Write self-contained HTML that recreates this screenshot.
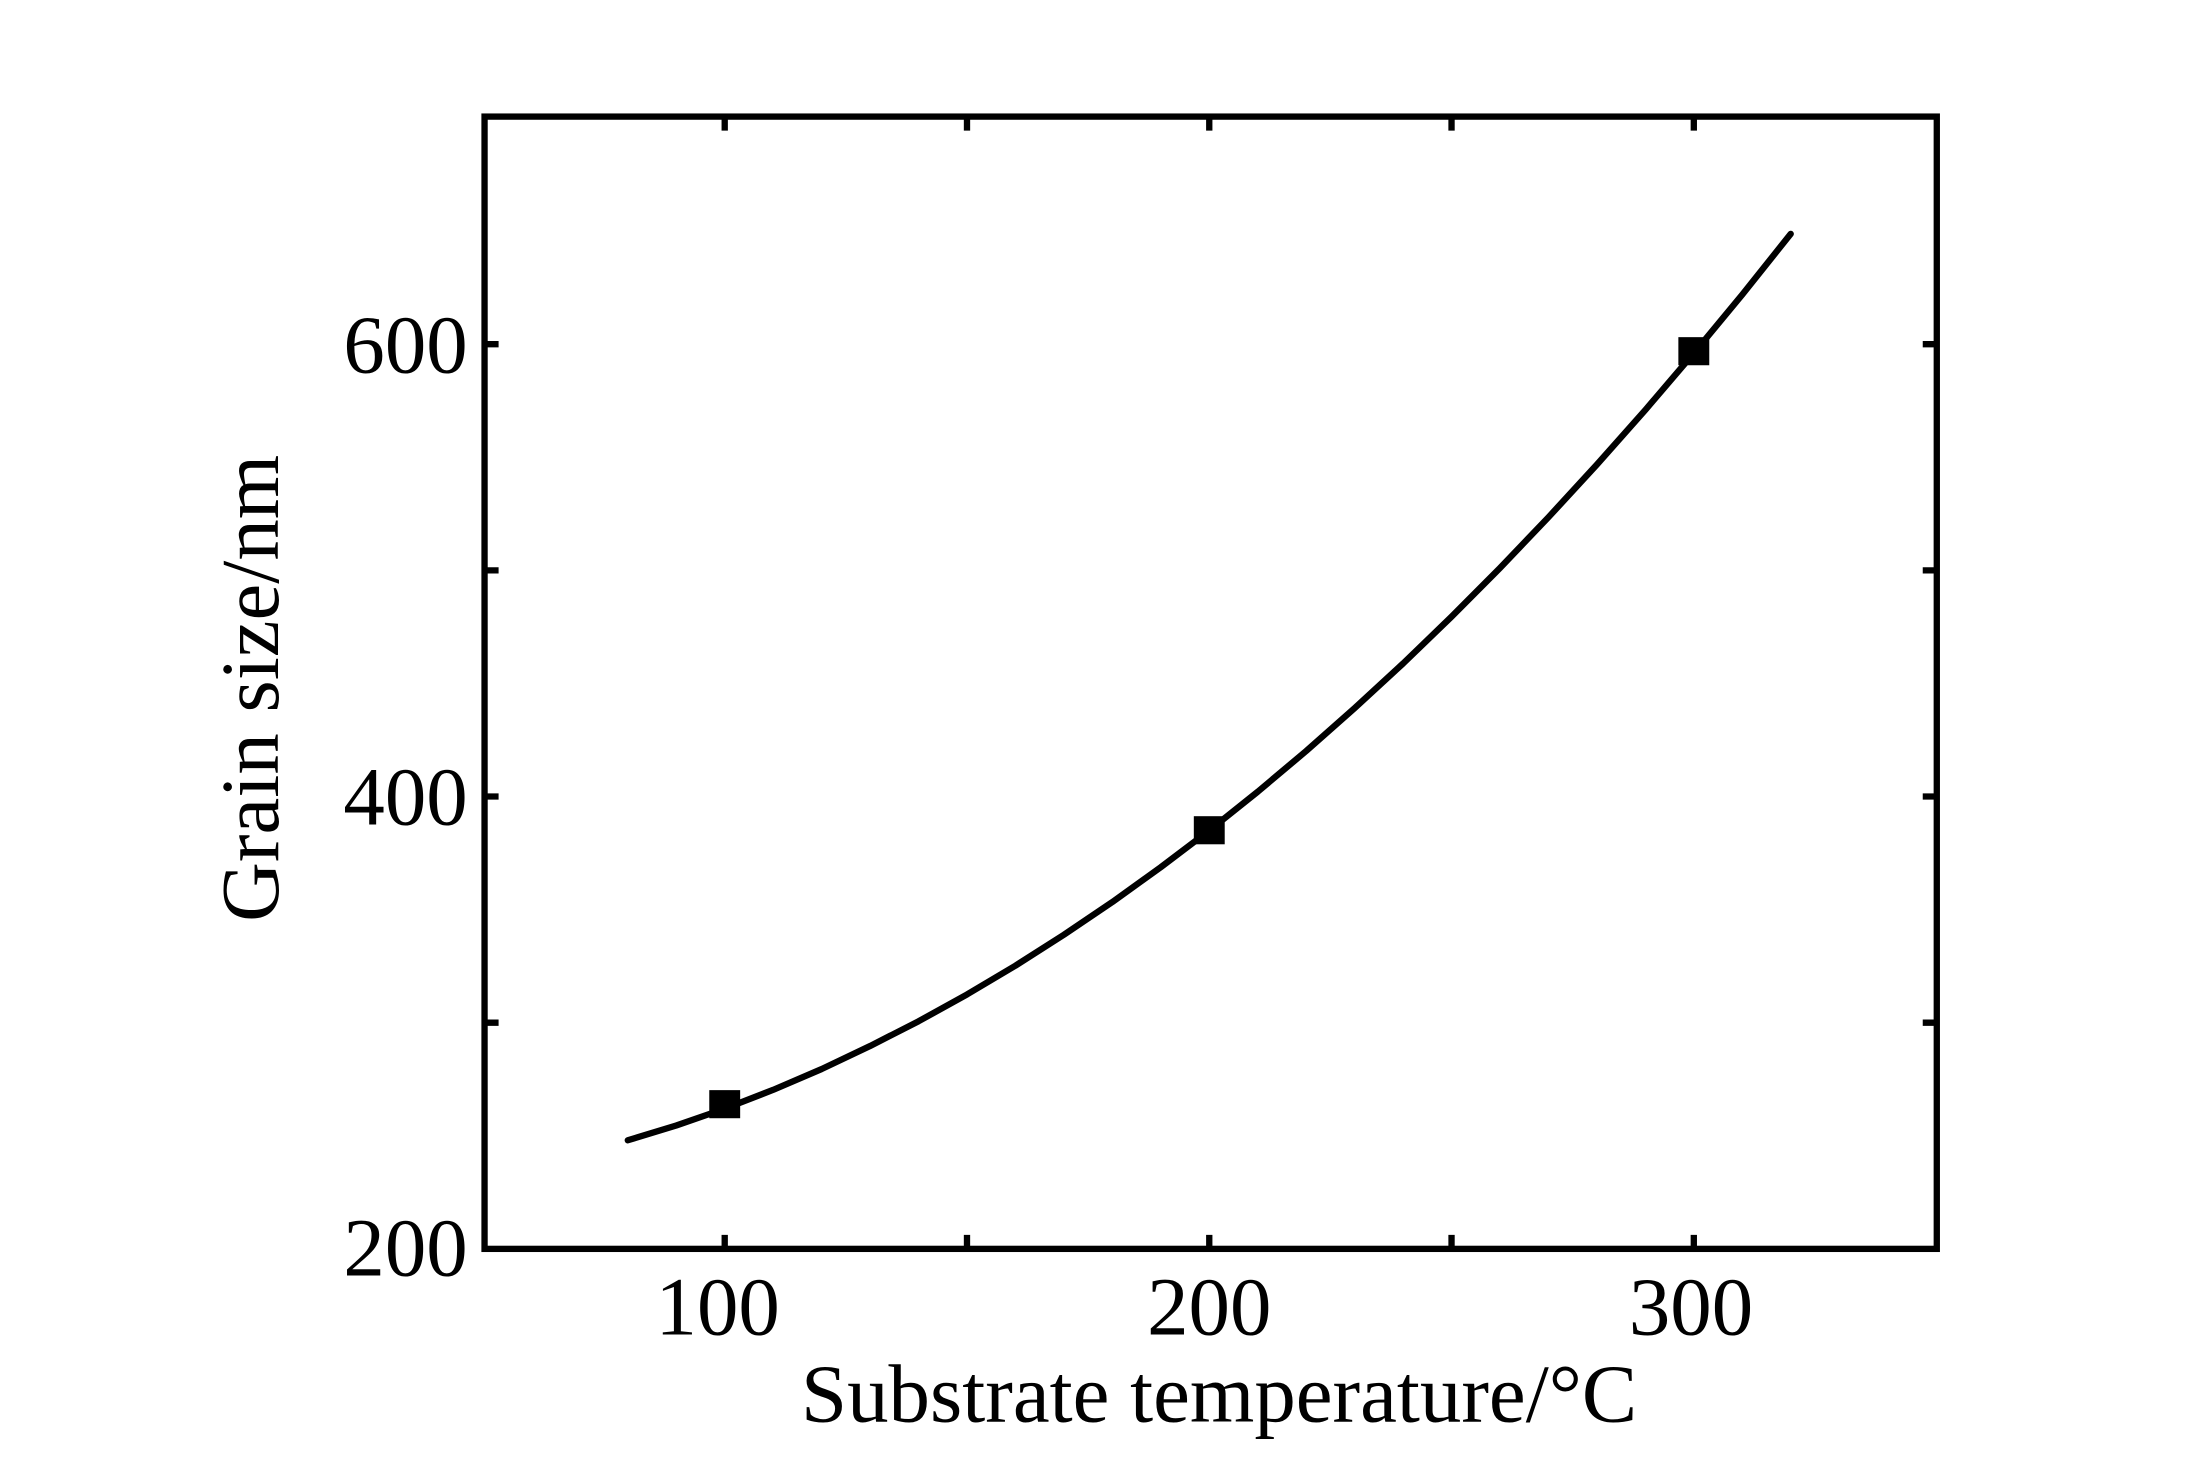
<!DOCTYPE html>
<html><head><meta charset="utf-8"><style>html,body{margin:0;padding:0;background:#fff}svg{display:block}</style></head>
<body>
<svg width="2191" height="1461" viewBox="0 0 1560 1040" preserveAspectRatio="none" xmlns="http://www.w3.org/2000/svg">
<rect width="1560" height="1040" fill="#fff"/>
<g stroke="#000" stroke-width="4.5" fill="none">
<rect x="345" y="83" width="1034" height="806"/>
<path d="M516 889v-10M688.5 889v-10M861 889v-10M1033.5 889v-10M1206 889v-10M516 83v10M688.5 83v10M861 83v10M1033.5 83v10M1206 83v10M345 728h10M345 567h10M345 406h10M345 245h10M1379 728h-10M1379 567h-10M1379 406h-10M1379 245h-10"/>
<polyline stroke-linecap="round" stroke-linejoin="round" points="447,811.7 481.5,801.2 516,789.2 550.5,775.8 585,761 619.5,744.6 654,727 688.5,707.9 723,687.4 757.5,665.4 792,642.1 826.5,617.3 861,591.2 895.5,563.6 930,534.6 964.5,504.1 999,472.3 1033.5,439 1068,404.3 1102.5,368.2 1137,330.7 1171.5,291.8 1206,251.4 1240.5,209.7 1275,166.5"/>
</g>
<g fill="#000">
<rect x="505" y="776" width="22" height="20"/>
<rect x="850" y="581" width="22" height="20"/>
<rect x="1195" y="240" width="22" height="20"/>
</g>
<g font-family="Liberation Serif, serif" font-size="59" fill="#000">
<g text-anchor="end">
<text x="333" y="908">200</text>
<text x="333" y="587">400</text>
<text x="333" y="265">600</text>
</g>
<g text-anchor="middle">
<text x="511" y="950">100</text>
<text x="861" y="950">200</text>
<text x="1204" y="950">300</text>
<text x="868" y="1012">Substrate temperature/°C</text>
<text transform="translate(198,490) rotate(-90)">Grain size/nm</text>
</g>
</g>
</svg>
</body></html>
